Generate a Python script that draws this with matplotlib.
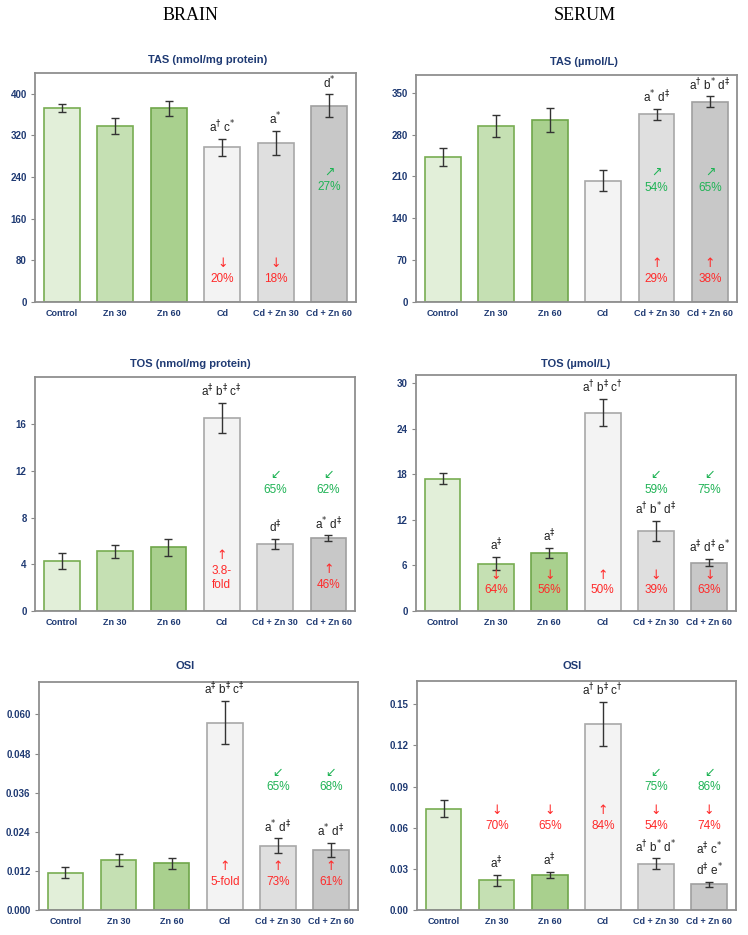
import matplotlib
matplotlib.use("Agg")
import matplotlib.pyplot as plt
import numpy as np

plt.rcParams["font.family"] = ["Liberation Sans", "DejaVu Sans"]
plt.rcParams["mathtext.fontset"] = "dejavusans"

groups = ["Control", "Zn 30", "Zn 60", "Cd", "Cd + Zn 30", "Cd + Zn 60"]

# values (mean, error)
brain_tas = [372, 338, 372, 297, 305, 377]
brain_tas_err = [8, 16, 15, 17, 23, 22]
serum_tas = [243, 294, 304, 203, 314, 335]
serum_tas_err = [15, 18, 20, 18, 9, 9]
brain_tos = [4.27, 5.12, 5.44, 16.54, 5.75, 6.23]
brain_tos_err = [0.68, 0.55, 0.75, 1.28, 0.43, 0.24]
serum_tos = [17.4, 6.25, 7.65, 26.1, 10.56, 6.38]
serum_tos_err = [0.7, 0.9, 0.66, 1.8, 1.34, 0.5]
brain_osi = [0.0115, 0.0154, 0.0143, 0.0575, 0.0198, 0.0184]
brain_osi_err = [0.0018, 0.0019, 0.0017, 0.0066, 0.0022, 0.0022]
serum_osi = [0.0738, 0.0216, 0.0257, 0.1359, 0.0337, 0.0187]
serum_osi_err = [0.0062, 0.0042, 0.0021, 0.016, 0.0039, 0.0021]

# significance letters above the error bars
brain_tas_sig = ["", "", "", r"a$^{\dagger}$ c$^{*}$", r"a$^{*}$", r"d$^{*}$"]
serum_tas_sig = ["", "", "", "", r"a$^{*}$ d$^{\ddagger}$", r"a$^{\dagger}$ b$^{*}$ d$^{\ddagger}$"]
brain_tos_sig = ["", "", "", r"a$^{\ddagger}$ b$^{\ddagger}$ c$^{\ddagger}$", r"d$^{\ddagger}$", r"a$^{*}$ d$^{\ddagger}$"]
serum_tos_sig = ["", r"a$^{\ddagger}$", r"a$^{\ddagger}$", r"a$^{\dagger}$ b$^{\ddagger}$ c$^{\dagger}$",
                 r"a$^{\dagger}$ b$^{*}$ d$^{\ddagger}$", r"a$^{\ddagger}$ d$^{\ddagger}$ e$^{*}$"]
brain_osi_sig = ["", "", "", r"a$^{\ddagger}$ b$^{\ddagger}$ c$^{\ddagger}$", r"a$^{*}$ d$^{\ddagger}$", r"a$^{*}$ d$^{\ddagger}$"]
serum_osi_sig = ["", r"a$^{\ddagger}$", r"a$^{\ddagger}$", r"a$^{\dagger}$ b$^{\ddagger}$ c$^{\dagger}$",
                 r"a$^{\dagger}$ b$^{*}$ d$^{*}$", "a$^{\\ddagger}$ c$^{*}$\nd$^{\\ddagger}$ e$^{*}$"]

# percent changes (red = vs control, green = vs Cd)
brain_tas_red = ["", "", "", "↓\n20%", "↓\n18%", ""]
brain_tas_green = ["", "", "", "", "", "↗\n27%"]
serum_tas_red = ["", "", "", "", "↑\n29%", "↑\n38%"]
serum_tas_green = ["", "", "", "", "↗\n54%", "↗\n65%"]
brain_tos_red = ["", "", "", "↑\n3.8-\nfold", "", "↑\n46%"]
brain_tos_green = ["", "", "", "", "↙\n65%", "↙\n62%"]
serum_tos_red = ["", "↓\n64%", "↓\n56%", "↑\n50%", "↓\n39%", "↓\n63%"]
serum_tos_green = ["", "", "", "", "↙\n59%", "↙\n75%"]
brain_osi_red = ["", "", "", "↑\n5-fold", "↑\n73%", "↑\n61%"]
brain_osi_green = ["", "", "", "", "↙\n65%", "↙\n68%"]
serum_osi_red = ["", "↓\n70%", "↓\n65%", "↑\n84%", "↓\n54%", "↓\n74%"]
serum_osi_green = ["", "", "", "", "↙\n75%", "↙\n86%"]

fills = ["#e2efd9", "#c5e0b3", "#a9d08e", "#f3f3f3", "#dfdfdf", "#c8c8c8"]
edges = ["#78ad52", "#78ad52", "#6fa64a", "#a8a8a8", "#a8a8a8", "#a0a0a0"]
navy = "#1f3a73"
red = "#ff2a2a"
green = "#1fb355"

panels = [
    # title, vals, errs, sig, red, green, ylim, ticks, fmt, rect, title xy, red y, green y
    ("TAS (nmol/mg protein)", brain_tas, brain_tas_err, brain_tas_sig, brain_tas_red, brain_tas_green,
     440, np.arange(0, 401, 80), "%d", [0.0468, 0.677, 0.429, 0.245], (208, 60), 0.076, 0.474),
    ("TAS (\u00b5mol/L)", serum_tas, serum_tas_err, serum_tas_sig, serum_tas_red, serum_tas_green,
     380, np.arange(0, 351, 70), "%d", [0.556, 0.677, 0.429, 0.243], (584, 62), 0.077, 0.477),
    ("TOS (nmol/mg protein)", brain_tos, brain_tos_err, brain_tos_sig, brain_tos_red, brain_tos_green,
     20, np.arange(0, 17, 4), "%d", [0.0468, 0.3465, 0.428, 0.250], (190, 364), 0.085, 0.492),
    ("TOS (\u00b5mol/L)", serum_tos, serum_tos_err, serum_tos_sig, serum_tos_red, serum_tos_green,
     31, np.arange(0, 31, 6), "%d", [0.556, 0.3465, 0.428, 0.252], (576, 364), 0.062, 0.490),
    ("OSI", brain_osi, brain_osi_err, brain_osi_sig, brain_osi_red, brain_osi_green,
     0.07, np.arange(0, 0.0601, 0.012), "%.3f", [0.052, 0.0267, 0.426, 0.244], (185, 666), 0.098, 0.511),
    ("OSI", serum_osi, serum_osi_err, serum_osi_sig, serum_osi_red, serum_osi_green,
     0.167, np.arange(0, 0.151, 0.03), "%.2f", [0.5575, 0.0267, 0.426, 0.245], (572, 666), 0.342, 0.509),
]


def change_label(ax, xi, y, s, color):
    # arrow on top in DejaVu (Liberation arrows are tiny), numbers below
    arrow, rest = s.split("\n", 1)
    nlines = rest.count("\n") + 1
    trans = ax.get_xaxis_transform()
    ax.text(xi, y, rest, transform=trans, ha="center", va="bottom", fontsize=8.5,
            color=color, linespacing=1.2, zorder=4)
    ax.annotate(arrow, xy=(xi, y), xycoords=trans, xytext=(0, 1.8 + (nlines - 1) * 10 + 11),
                textcoords="offset points", ha="center", va="baseline", family="DejaVu Sans",
                fontsize=9, color=color, zorder=4)


fig = plt.figure(figsize=(7.48, 9.35), dpi=100)
W, H = 748, 935

fig.text(190 / W, 1 - 15 / H, "BRAIN", family="Liberation Serif", fontsize=13, ha="center", va="center")
fig.text(585 / W, 1 - 15 / H, "SERUM", family="Liberation Serif", fontsize=13, ha="center", va="center")

x = np.arange(len(groups))
for title, vals, errs, sig, reds, greens, ytop, ticks, fmt, rect, txy, red_y, green_y in panels:
    ax = fig.add_axes(rect)
    ax.bar(x, vals, width=0.67, color=fills, edgecolor=edges, linewidth=1.2, zorder=2)
    ax.errorbar(x, vals, yerr=errs, fmt="none", ecolor="#333333", elinewidth=1, capsize=3,
                capthick=1, zorder=3)
    ax.set_xlim(-0.5, len(groups) - 0.5)
    ax.set_ylim(0, ytop)
    ax.set_yticks(ticks)
    ax.set_yticklabels([fmt % t for t in ticks], color=navy, fontsize=7, fontweight="bold")
    ax.set_xticks(x)
    ax.set_xticklabels(groups, color=navy, fontsize=6.5, fontweight="bold")
    ax.tick_params(axis="x", length=0, pad=5)
    ax.tick_params(axis="y", length=3, color="#888888", pad=3)
    for s in ax.spines.values():
        s.set_color("#8f8f8f")
        s.set_linewidth(1.3)

    for i in range(len(groups)):
        if sig[i]:
            ax.annotate(sig[i], (x[i], vals[i] + errs[i]), xytext=(0, 2.5), textcoords="offset points",
                        ha="center", va="bottom", fontsize=8.5, color="#222222", linespacing=1.3)
        if reds[i]:
            change_label(ax, x[i], red_y, reds[i], red)
        if greens[i]:
            change_label(ax, x[i], green_y, greens[i], green)

    fig.text(txy[0] / W, 1 - txy[1] / H, title, ha="center", va="center", color=navy,
             fontsize=8, fontweight="bold")

fig.savefig("out.png", dpi=100)
